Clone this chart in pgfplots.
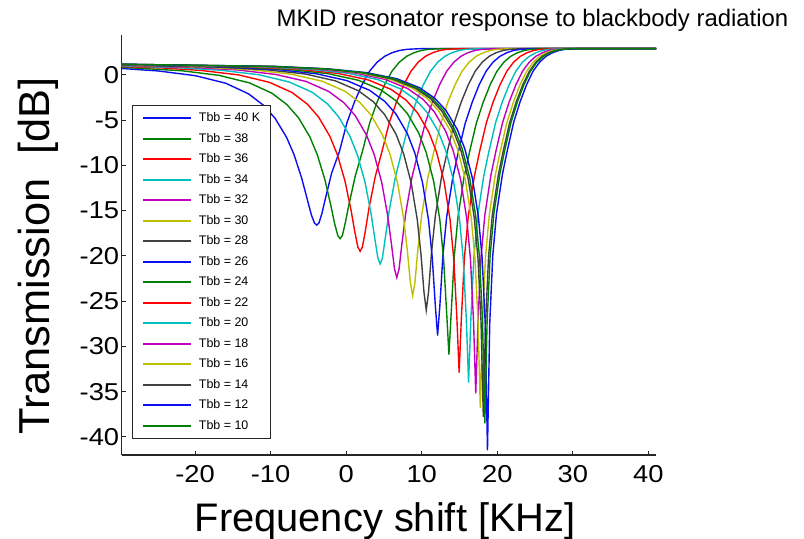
\documentclass[border=0pt]{standalone}
\usepackage{pgfplots}
\pgfplotsset{compat=1.18}
\usepackage{fontspec}
\setmainfont{Liberation Sans}
\newfontfamily\widefont{Liberation Sans}[FakeStretch=1.12]
\definecolor{cB}{rgb}{0.05,0.05,0.95}
\definecolor{cG}{rgb}{0,0.5,0}
\definecolor{cR}{rgb}{1,0,0}
\definecolor{cC}{rgb}{0,0.75,0.75}
\definecolor{cM}{rgb}{0.75,0,0.75}
\definecolor{cY}{rgb}{0.75,0.75,0}
\definecolor{cK}{rgb}{0.25,0.25,0.25}
\begin{document}
\begin{tikzpicture}
\path[use as bounding box] (-121.7bp,-84bp) rectangle (682.3bp,455bp);
\begin{axis}[
  at={(0,0)}, anchor=south west,
  scale only axis, width=534.3bp, height=420bp,
  xmin=-29.7, xmax=41, ymin=-42, ymax=4.4,
  axis x line*=bottom, axis y line*=left,
  axis line style={line width=1.1bp, black!85},
  xtick={-20,-10,0,10,20,30,40}, xticklabels={-20,-10,0,10,20,30,40},
  ytick={-40,-35,-30,-25,-20,-15,-10,-5,0}, yticklabels={-40,-35,-30,-25,-20,-15,-10,-5,0},
  tick style={black!85, line width=0.9bp},
  major tick length=4bp,
  tick label style={font=\widefont\fontsize{24.5}{29}\selectfont},
  xticklabel style={yshift=-7bp},
  yticklabel style={xshift=1bp},
  legend style={at={(0.0187,0.8333)}, anchor=north west, draw=black!85, line width=1bp, fill=white,
    font=\fontsize{12.5}{14}\selectfont, inner xsep=10bp, inner ysep=7bp,
    row sep=9.5bp, column sep=6.7bp,
    nodes={inner sep=0bp, text height=9bp, text depth=2bp, anchor=west}},
  legend cell align=left,
  legend image code/.code={\draw[#1, line width=2bp] (0bp,0bp) -- (48bp,0bp);},
  every axis plot/.append style={line width=1.4bp},
]
\addplot[cB] coordinates {(-29.7,0.70) (-24.9,0.43) (-19.9,-0.10) (-15.9,-0.94) (-12.9,-2.11) (-10.9,-3.39) (-9.4,-4.81) (-7.9,-6.88) (-6.9,-8.81) (-5.9,-11.37) (-5.1,-13.90) (-4.6,-15.48) (-4.2,-16.37) (-3.9,-16.6) (-3.6,-16.37) (-3.2,-15.3) (-2.7,-13.5) (-1.9,-10.8) (-0.9,-8.5) (0.1,-5.3) (1.1,-3.0) (2.1,-1.1) (3.1,0.4) (4.1,1.4) (5.1,2.05) (6.1,2.45) (7.1,2.7) (8.1,2.82) (10.1,2.9) (41,2.9)};
\addlegendentry{Tbb = 40 K}
\addplot[cG] coordinates {(-29.7,0.83) (-21.8,0.455) (-16.8,-0.06) (-12.8,-0.89) (-9.8,-2.04) (-7.8,-3.32) (-6.3,-4.75) (-4.8,-6.86) (-3.8,-8.87) (-2.8,-11.62) (-2.0,-14.54) (-1.5,-16.53) (-1.1,-17.76) (-0.8,-18.1) (-0.5,-17.76) (-0.1,-16.3) (0.4,-14.2) (1.2,-11.2) (2.14,-8.5) (3.12,-5.3) (4.10,-3.0) (5.08,-1.1) (6.06,0.4) (7.04,1.4) (8.02,2.05) (9.0,2.45) (9.98,2.7) (10.96,2.82) (12.93,2.9) (41,2.9)};
\addlegendentry{Tbb = 38}
\addplot[cR] coordinates {(-29.7,0.92) (-24.15,0.75) (-19.15,0.48) (-14.15,-0.02) (-10.15,-0.83) (-7.15,-1.96) (-5.15,-3.23) (-3.65,-4.66) (-2.15,-6.80) (-1.15,-8.85) (-0.15,-11.75) (0.65,-14.97) (1.15,-17.37) (1.55,-19.02) (1.85,-19.5) (2.15,-19.02) (2.55,-17.2) (3.05,-14.6) (3.85,-11.25) (4.73,-8.5) (5.70,-5.3) (6.66,-3.0) (7.62,-1.1) (8.58,0.4) (9.54,1.4) (10.50,2.05) (11.47,2.45) (12.43,2.7) (13.39,2.82) (15.31,2.9) (41,2.9)};
\addlegendentry{Tbb = 36}
\addplot[cC] coordinates {(-29.7,0.98) (-22.5,0.80) (-16.5,0.50) (-11.5,0.00) (-7.5,-0.80) (-4.5,-1.92) (-2.5,-3.19) (-1.0,-4.63) (0.5,-6.78) (1.5,-8.87) (2.5,-11.87) (3.3,-15.35) (3.8,-18.13) (4.2,-20.24) (4.5,-20.9) (4.8,-20.24) (5.2,-17.9) (5.7,-15.0) (6.5,-11.37) (7.36,-8.5) (8.31,-5.3) (9.26,-3.0) (10.21,-1.1) (11.17,0.4) (12.12,1.4) (13.07,2.05) (14.02,2.45) (14.98,2.7) (15.93,2.82) (17.83,2.9) (41,2.9)};
\addlegendentry{Tbb = 34}
\addplot[cM] coordinates {(-29.7,1.03) (-20.3,0.815) (-14.3,0.53) (-9.3,0.04) (-5.3,-0.73) (-2.3,-1.84) (-0.3,-3.08) (1.2,-4.51) (2.7,-6.67) (3.7,-8.78) (4.7,-11.86) (5.5,-15.57) (6.0,-18.75) (6.4,-21.46) (6.7,-22.4) (7.0,-21.46) (7.4,-18.5) (7.9,-15.2) (8.7,-11.36) (9.53,-8.5) (10.47,-5.3) (11.42,-3.0) (12.36,-1.1) (13.30,0.4) (14.25,1.4) (15.19,2.05) (16.13,2.45) (17.08,2.7) (18.02,2.82) (19.91,2.9) (41,2.9)};
\addlegendentry{Tbb = 32}
\addplot[cY] coordinates {(-29.7,1.06) (-19.2,0.86) (-12.2,0.54) (-7.2,0.06) (-3.2,-0.70) (-0.2,-1.79) (1.8,-3.04) (3.3,-4.46) (4.8,-6.63) (5.8,-8.76) (6.8,-11.91) (7.6,-15.83) (8.1,-19.44) (8.5,-22.96) (8.8,-24.4) (9.1,-22.96) (9.5,-19.2) (10.0,-15.5) (10.8,-11.41) (11.60,-8.5) (12.54,-5.3) (13.47,-3.0) (14.41,-1.1) (15.34,0.4) (16.28,1.4) (17.21,2.05) (18.15,2.45) (19.08,2.7) (20.01,2.82) (21.88,2.9) (41,2.9)};
\addlegendentry{Tbb = 30}
\addplot[cK] coordinates {(-29.7,1.08) (-17.4,0.865) (-10.4,0.55) (-5.4,0.09) (-1.4,-0.67) (1.6,-1.75) (3.6,-2.98) (5.1,-4.40) (6.6,-6.56) (7.6,-8.71) (8.6,-11.90) (9.4,-15.93) (9.9,-19.82) (10.3,-24.01) (10.6,-26.0) (10.9,-24.01) (11.3,-19.6) (11.8,-15.6) (12.6,-11.4) (13.38,-8.5) (14.30,-5.3) (15.23,-3.0) (16.16,-1.1) (17.08,0.4) (18.01,1.4) (18.93,2.05) (19.86,2.45) (20.79,2.7) (21.71,2.82) (23.56,2.9) (41,2.9)};
\addlegendentry{Tbb = 28}
\addplot[cB] coordinates {(-29.7,1.10) (-15.9,0.87) (-8.9,0.57) (-3.9,0.11) (0.1,-0.64) (3.1,-1.71) (5.1,-2.93) (6.6,-4.34) (8.1,-6.50) (9.1,-8.66) (10.1,-11.89) (10.9,-16.04) (11.4,-20.26) (11.8,-25.51) (12.1,-28.8) (12.4,-25.51) (12.8,-20.0) (13.3,-15.7) (14.1,-11.4) (14.85,-8.5) (15.77,-5.3) (16.69,-3.0) (17.60,-1.1) (18.52,0.4) (19.44,1.4) (20.36,2.05) (21.27,2.45) (22.19,2.7) (23.11,2.82) (24.94,2.9) (41,2.9)};
\addlegendentry{Tbb = 26}
\addplot[cG] coordinates {(-29.7,1.12) (-14.4,0.88) (-7.4,0.58) (-2.4,0.13) (1.6,-0.60) (4.6,-1.66) (6.6,-2.87) (8.1,-4.28) (9.6,-6.43) (10.6,-8.59) (11.6,-11.83) (12.4,-16.04) (12.9,-20.41) (13.3,-26.30) (13.6,-30.9) (13.9,-26.30) (14.3,-20.1) (14.8,-15.7) (15.6,-11.3) (16.33,-8.5) (17.24,-5.3) (18.15,-3.0) (19.05,-1.1) (19.96,0.4) (20.87,1.4) (21.78,2.05) (22.69,2.45) (23.6,2.7) (24.51,2.82) (26.33,2.9) (41,2.9)};
\addlegendentry{Tbb = 24}
\addplot[cR] coordinates {(-29.7,1.13) (-13.05,0.89) (-6.05,0.60) (-1.05,0.15) (2.95,-0.57) (5.95,-1.61) (7.95,-2.81) (9.45,-4.21) (10.95,-6.36) (11.95,-8.51) (12.95,-11.76) (13.75,-16.00) (14.25,-20.46) (14.65,-26.82) (14.95,-32.9) (15.25,-26.82) (15.65,-20.2) (16.15,-15.7) (16.95,-11.26) (17.65,-8.5) (18.55,-5.3) (19.45,-3.0) (20.36,-1.1) (21.26,0.4) (22.16,1.4) (23.06,2.05) (23.96,2.45) (24.86,2.7) (25.76,2.82) (27.56,2.9) (41,2.9)};
\addlegendentry{Tbb = 22}
\addplot[cC] coordinates {(-29.7,1.15) (-11.8,0.90) (-4.8,0.61) (0.2,0.175) (4.2,-0.53) (7.2,-1.56) (9.2,-2.75) (10.7,-4.14) (12.2,-6.28) (13.2,-8.43) (14.2,-11.67) (15.0,-15.92) (15.5,-20.43) (15.9,-26.99) (16.2,-34.0) (16.5,-26.99) (16.9,-20.2) (17.4,-15.6) (18.2,-11.2) (18.88,-8.5) (19.77,-5.3) (20.66,-3.0) (21.56,-1.1) (22.45,0.4) (23.34,1.4) (24.24,2.05) (25.13,2.45) (26.02,2.7) (26.91,2.82) (28.7,2.9) (41,2.9)};
\addlegendentry{Tbb = 20}
\addplot[cM] coordinates {(-29.7,1.16) (-10.85,0.91) (-3.85,0.63) (1.15,0.20) (5.15,-0.50) (8.15,-1.52) (10.15,-2.69) (11.65,-4.07) (13.15,-6.20) (14.15,-8.34) (15.15,-11.58) (15.95,-15.84) (16.45,-20.37) (16.85,-27.12) (17.15,-35.2) (17.45,-27.12) (17.85,-20.1) (18.35,-15.5) (19.15,-11.1) (19.80,-8.5) (20.69,-5.3) (21.57,-3.0) (22.46,-1.1) (23.34,0.4) (24.23,1.4) (25.11,2.05) (26.0,2.45) (26.88,2.7) (27.77,2.82) (29.54,2.9) (41,2.9)};
\addlegendentry{Tbb = 18}
\addplot[cY] coordinates {(-29.7,1.16) (-10.25,0.92) (-3.25,0.64) (1.75,0.22) (5.75,-0.47) (8.75,-1.47) (10.75,-2.63) (12.25,-4.00) (13.75,-6.11) (14.75,-8.25) (15.75,-11.49) (16.55,-15.76) (17.05,-20.32) (17.45,-27.24) (17.75,-36.8) (18.05,-27.24) (18.45,-20.0) (18.95,-15.4) (19.75,-11.0) (20.38,-8.5) (21.26,-5.3) (22.14,-3.0) (23.01,-1.1) (23.89,0.4) (24.77,1.4) (25.64,2.05) (26.52,2.45) (27.4,2.7) (28.28,2.82) (30.03,2.9) (41,2.9)};
\addlegendentry{Tbb = 16}
\addplot[cK] coordinates {(-29.7,1.17) (-9.85,0.92) (-2.85,0.64) (2.15,0.22) (6.15,-0.47) (9.15,-1.47) (11.15,-2.63) (12.65,-4.00) (14.15,-6.11) (15.15,-8.25) (16.15,-11.49) (16.95,-15.77) (17.45,-20.34) (17.85,-27.34) (18.15,-37.8) (18.45,-27.34) (18.85,-20.0) (19.35,-15.4) (20.15,-11.0) (20.76,-8.5) (21.63,-5.3) (22.5,-3.0) (23.37,-1.1) (24.24,0.4) (25.11,1.4) (25.98,2.05) (26.85,2.45) (27.72,2.7) (28.58,2.82) (30.32,2.9) (41,2.9)};
\addlegendentry{Tbb = 14}
\addplot[cB] coordinates {(-29.7,1.17) (-9.3,0.93) (-2.3,0.655) (2.7,0.24) (6.7,-0.43) (9.7,-1.42) (11.7,-2.57) (13.2,-3.93) (14.7,-6.03) (15.7,-8.16) (16.7,-11.40) (17.5,-15.68) (18.0,-20.29) (18.4,-27.47) (18.7,-41.5) (19.0,-27.47) (19.4,-20.0) (19.9,-15.3) (20.7,-10.9) (21.29,-8.5) (22.15,-5.3) (23.01,-3.0) (23.87,-1.1) (24.73,0.4) (25.6,1.4) (26.46,2.05) (27.32,2.45) (28.18,2.7) (29.04,2.82) (30.77,2.9) (41,2.9)};
\addlegendentry{Tbb = 12}
\addplot[cG] coordinates {(-29.7,1.17) (-9.65,0.93) (-2.65,0.655) (2.35,0.24) (6.35,-0.43) (9.35,-1.42) (11.35,-2.57) (12.85,-3.93) (14.35,-6.03) (15.35,-8.16) (16.35,-11.39) (17.15,-15.66) (17.65,-20.25) (18.05,-27.30) (18.35,-38.5) (18.65,-27.30) (19.05,-20.0) (19.55,-15.3) (20.35,-10.9) (20.94,-8.5) (21.8,-5.3) (22.66,-3.0) (23.52,-1.1) (24.38,0.4) (25.25,1.4) (26.11,2.05) (26.97,2.45) (27.83,2.7) (28.69,2.82) (30.42,2.9) (41,2.9)};
\addlegendentry{Tbb = 10}
\end{axis}
\node[anchor=base, font=\fontsize{24}{28}\selectfont] at (410.8bp,428bp) {MKID resonator response to blackbody radiation};
\node[anchor=base, font=\fontsize{40}{48}\selectfont] at (263.5bp,-76bp) {Frequency shift [KHz]};
\node[rotate=90, font=\fontsize{43.5}{52}\selectfont] at (-83bp,199bp) {Transmission\ \ [dB]};
\end{tikzpicture}
\end{document}
